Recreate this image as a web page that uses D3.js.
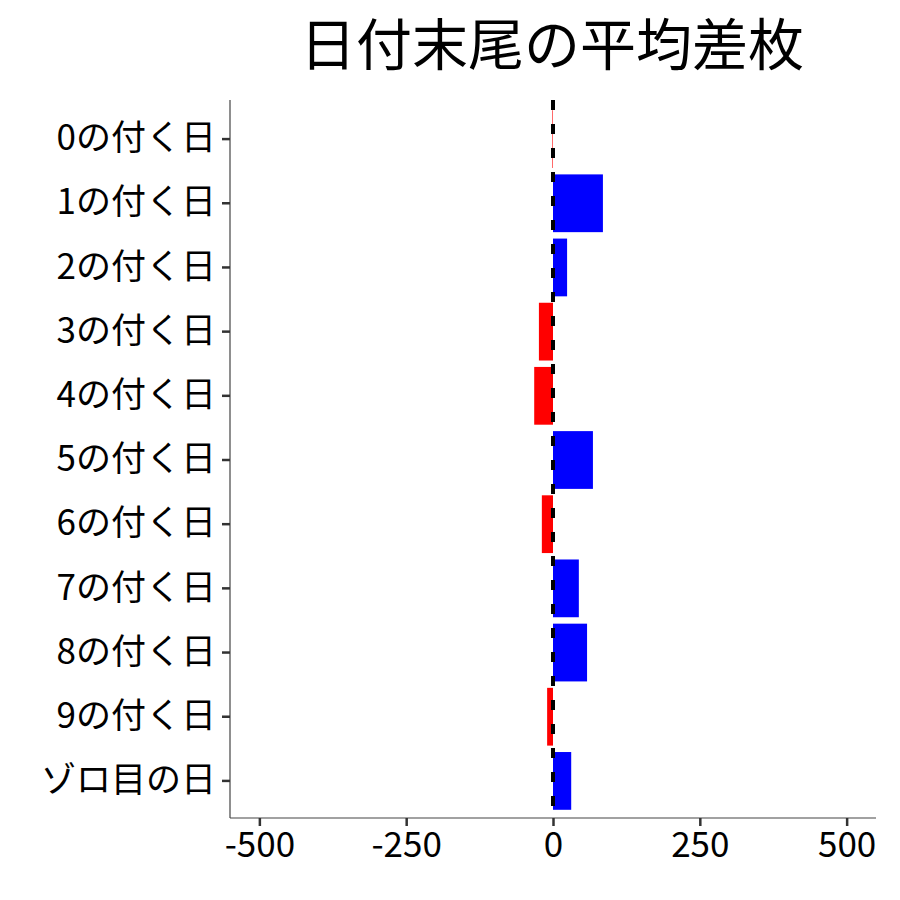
<!DOCTYPE html>
<html><head><meta charset="utf-8">
<script src="https://cdn.jsdelivr.net/npm/d3@7"></script>
<style>body{margin:0;background:#fff}</style>
</head><body><svg id="c" width="900" height="900"></svg>
<script>
var categories = ["0の付く日","1の付く日","2の付く日","3の付く日","4の付く日","5の付く日","6の付く日","7の付く日","8の付く日","9の付く日","ゾロ目の日"];
var values = [-1, 85, 24, -24, -32, 68, -19, 44, 58, -10, 31];
var ticks = [-500, -250, 0, 250, 500];

var svg = d3.select("#c"),
    font = "'Noto Sans CJK JP', sans-serif";
var x = d3.scaleLinear().domain([-550, 550]).range([230, 876]);
var y = d3.scaleBand().domain(categories).range([107, 813]).paddingInner(0.1).paddingOuter(0.05);

svg.append("text").attr("x", 552).attr("y", 65).attr("text-anchor", "middle")
  .style("font-family", font).style("font-size", "56px").text("日付末尾の平均差枚");

svg.selectAll("rect.bar").data(values).enter().append("rect").attr("class", "bar")
  .attr("x", d => x(Math.min(0, d)))
  .attr("width", d => Math.abs(x(d) - x(0)))
  .attr("y", (d, i) => y(categories[i]))
  .attr("height", y.bandwidth())
  .attr("fill", d => d < 0 ? "#ff0000" : "#0000ff");

svg.append("line").attr("x1", x(0)).attr("x2", x(0)).attr("y1", 100).attr("y2", 818)
  .attr("stroke", "#000").attr("stroke-width", 4).attr("stroke-dasharray", "10,14");

var ax = svg.append("g").attr("transform", "translate(0,818)")
  .call(d3.axisBottom(x).tickValues(ticks).tickFormat(d => String(d)).tickSize(8).tickPadding(6).tickSizeOuter(0));
var ay = svg.append("g").attr("transform", "translate(230,0)")
  .call(d3.axisLeft(y).tickSize(8).tickPadding(6).tickSizeOuter(0));
[ax, ay].forEach(g => {
  g.select(".domain").attr("stroke", "#444").attr("stroke-width", 1.2);
  g.selectAll(".tick line").attr("stroke", "#333").attr("stroke-width", 2.5);
  g.selectAll("text").attr("fill", "#000").style("font-family", font).style("font-size", "35px");
});
ax.select(".domain").attr("d", "M230,0H876");
ay.select(".domain").attr("d", "M0,100V818");
</script></body></html>
